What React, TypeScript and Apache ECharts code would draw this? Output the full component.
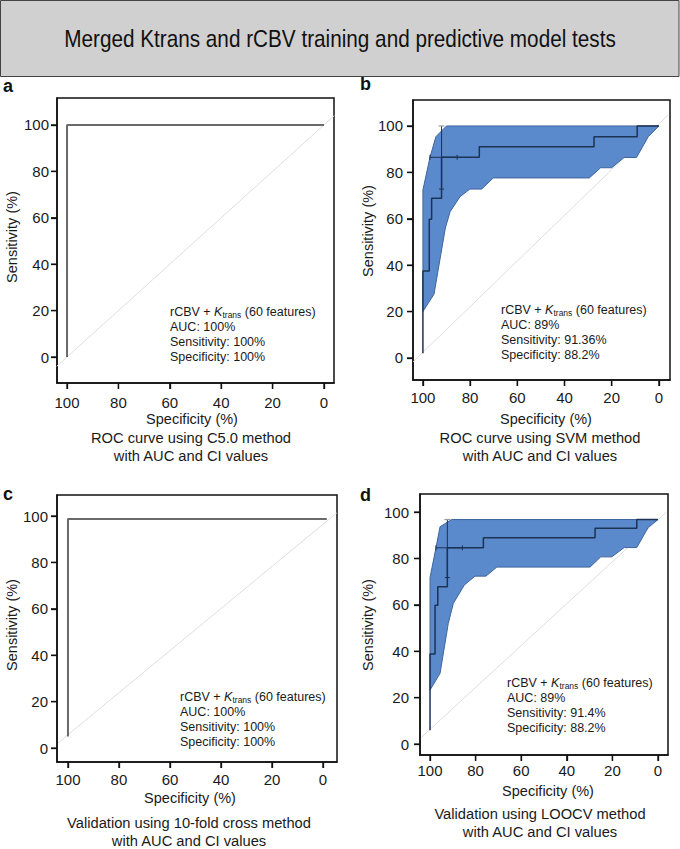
import React, { useEffect, useRef } from "react";
import * as echarts from "echarts";

const FONT = "'Liberation Sans', Arial, Helvetica, sans-serif";
const TICK_VALUES = [0, 20, 40, 60, 80, 100];

const TITLE = "Merged Ktrans and rCBV training and predictive model tests";
const PANEL_LETTERS = ["a", "b", "c", "d"];
const CAPTIONS = [
  "ROC curve using C5.0 method\nwith AUC and CI values",
  "ROC curve using SVM method\nwith AUC and CI values",
  "Validation using 10-fold cross method\nwith AUC and CI values",
  "Validation using LOOCV method\nwith AUC and CI values",
];
const X_NAME = "Specificity (%)";
const Y_NAME = "Sensitivity (%)";
const STATS_A = ["AUC: 100%", "Sensitivity: 100%", "Specificity: 100%"];
const STATS_B = ["AUC: 89%", "Sensitivity: 91.36%", "Specificity: 88.2%"];
const STATS_C = ["AUC: 100%", "Sensitivity: 100%", "Specificity: 100%"];
const STATS_D = ["AUC: 89%", "Sensitivity: 91.4%", "Specificity: 88.2%"];

// Panel a (C5.0)
const ROC_A = [[100, 0], [100, 100], [0, 100]];
const DIAG_A = [[104, -4], [-4, 104]];

// Panel b (SVM)
const ROC_B = [
  [100, 2], [100, 37.5], [97.3, 37.5], [97.3, 59.8], [96.3, 59.8], [96.3, 68.8],
  [92.1, 68.8], [92.1, 86.5], [76.1, 86.5], [76.1, 91.1], [27.5, 91.1], [27.5, 95.4],
  [9.2, 95.4], [9.2, 100], [0, 100],
];
const BAND_UPPER_B = [[100, 20], [100, 72.4], [97, 86.5], [94.5, 95.4], [90, 100], [0, 100]];
const BAND_LOWER_B = [
  [100, 20], [95.3, 27.5], [90.5, 56], [88.5, 63], [84.3, 69.5], [80.1, 72.8], [75.1, 72.8],
  [70.2, 77.6], [29.5, 77.6], [24.7, 82], [20, 82], [14.8, 86.4], [9.5, 86.4], [4.5, 95.4], [0, 100],
];
const CI_SENS_B = [[92.1, 72.8], [92.1, 100]];
const CI_SPEC_B = [[97, 86.5], [85.5, 86.5]];
const DIAG_B = [[104.1, -1.6], [-3.9, 104.7]];

// Panel c (10-fold)
const ROC_C = [[100, 5], [100, 98.7], [-1.5, 98.7]];
const DIAG_C = [[103.9, 2.2], [-5.4, 101.3]];

// Panel d (LOOCV)
const ROC_D = [
  [100, 6], [100, 38.8], [97.8, 38.8], [97.8, 59.9], [96.6, 59.9], [96.6, 67.8],
  [92.4, 67.8], [92.4, 84.6], [76.6, 84.6], [76.6, 88.9], [27.6, 88.9], [27.6, 93],
  [9.3, 93], [9.3, 96.8], [0, 96.8],
];
const BAND_UPPER_D = [[100, 23.3], [100, 71.8], [97.4, 84.6], [95.6, 93.7], [90.5, 96.8], [0, 96.8]];
const BAND_LOWER_D = [
  [100, 23.3], [95.6, 30.5], [92, 52], [89.8, 60.6], [85, 68.5], [80.3, 72.4], [75.5, 72.4],
  [70.7, 76.3], [29.8, 76.3], [25.1, 80.7], [20.3, 80.7], [14.8, 84.7], [9.3, 84.7], [4.3, 93.4], [0, 96.8],
];
const CI_SENS_D = [[92.4, 71.8], [92.4, 96.8]];
const CI_SPEC_D = [[97.4, 84.6], [85.8, 84.6]];
const DIAG_D = [[103.6, 3.1], [-3.8, 100.1]];

// layout
const PANELS = [
  { grid: { left: 57, top: 98, width: 277, height: 285 }, x: [-3.9, 103.9], y: [-11.2, 111.6], yM: 8, xM: 12,
    letter: [3, 86], xName: [192, 419], yName: [12, 237], cap: [191, 447], stats: [170, 304.5] },
  { grid: { left: 413, top: 100, width: 257, height: 280 }, x: [-4.7, 104.2], y: [-9.5, 111.2], yM: 10, xM: 10,
    letter: [360, 84], xName: [546, 419], yName: [368, 231], cap: [540, 447], stats: [501, 302.5] },
  { grid: { left: 57, top: 495, width: 280, height: 267 }, x: [-5.5, 104.3], y: [-6, 109.05], yM: 9, xM: 10,
    letter: [3, 494], xName: [190, 798], yName: [12, 625], cap: [189, 832], stats: [180, 689.5] },
  { grid: { left: 420, top: 494, width: 248, height: 261 }, x: [-4.4, 104.4], y: [-4.7, 107.8], yM: 11, xM: 8,
    letter: [360, 495], xName: [548, 791], yName: [368, 625], cap: [540, 822.5], stats: [507, 675.5] },
];

const CURVE_GRAY = "#6a6a6a";
const CURVE_NAVY = "#1c3354";
const BAND_FILL = "#5a89cc";
const BAND_EDGE = "#3e659e";
const DIAG_COLOR = "#dedede";
const TEXT_COLOR = "#1a1a1a";
const FRAME_COLOR = "#111";
const TICK_LEN = 6;

function lineSeries(i: number, data: number[][], color: string, width: number, z: number) {
  return {
    type: "line",
    xAxisIndex: i,
    yAxisIndex: i,
    data,
    symbol: "none",
    showSymbol: false,
    silent: true,
    clip: true,
    z,
    lineStyle: { color, width },
  };
}

function bandSeries(i: number, upper: number[][], lower: number[][]) {
  const poly = upper.concat(lower.slice().reverse());
  return {
    type: "custom",
    xAxisIndex: i,
    yAxisIndex: i,
    silent: true,
    z: 2,
    data: [[50, 50]],
    renderItem: (_p: any, api: any) => ({
      type: "polygon",
      shape: { points: poly.map((pt) => api.coord(pt)) },
      style: { fill: BAND_FILL, stroke: BAND_EDGE, lineWidth: 1 },
    }),
  };
}

// outward tick marks on the left and bottom edges, placed through the axes' scales
function tickSeries(i: number, xr: number[], yr: number[]) {
  return {
    type: "custom",
    xAxisIndex: i,
    yAxisIndex: i,
    clip: false,
    z: 10,
    data: [[50, 50]],
    renderItem: (_p: any, api: any) => {
      const children: any[] = [];
      TICK_VALUES.forEach((v) => {
        const b = api.coord([v, yr[0]]);
        children.push({ type: "line", shape: { x1: b[0], y1: b[1], x2: b[0], y2: b[1] + TICK_LEN }, style: { stroke: FRAME_COLOR, lineWidth: 1.3 } });
        const l = api.coord([xr[1], v]);
        children.push({ type: "line", shape: { x1: l[0], y1: l[1], x2: l[0] - TICK_LEN, y2: l[1] }, style: { stroke: FRAME_COLOR, lineWidth: 1.3 } });
      });
      return { type: "group", children };
    },
  };
}

function ciSeries(i: number, sens: number[][], spec: number[][]) {
  return {
    type: "custom",
    xAxisIndex: i,
    yAxisIndex: i,
    silent: true,
    z: 4,
    data: [[50, 50]],
    renderItem: (_p: any, api: any) => {
      const s0 = api.coord(sens[0]);
      const s1 = api.coord(sens[1]);
      const p0 = api.coord(spec[0]);
      const p1 = api.coord(spec[1]);
      const navy = { stroke: CURVE_NAVY, lineWidth: 1 };
      return {
        type: "group",
        children: [
          { type: "line", shape: { x1: s0[0], y1: s0[1], x2: s1[0], y2: s1[1] }, style: navy },
          { type: "line", shape: { x1: p0[0], y1: p0[1], x2: p1[0], y2: p1[1] }, style: navy },
          { type: "line", shape: { x1: s0[0] - 2.5, y1: s0[1], x2: s0[0] + 2.5, y2: s0[1] }, style: navy },
          { type: "line", shape: { x1: s1[0] - 3, y1: s1[1], x2: s1[0] + 3, y2: s1[1] }, style: { stroke: "#9a9a9a", lineWidth: 1.2 } },
          { type: "line", shape: { x1: p0[0], y1: p0[1] - 2.5, x2: p0[0], y2: p0[1] + 2.5 }, style: navy },
          { type: "line", shape: { x1: p1[0], y1: p1[1] - 2.5, x2: p1[0], y2: p1[1] + 2.5 }, style: navy },
        ],
      };
    },
  };
}

function statsText(x: number, y: number, lines: string[]) {
  const text = "{n|rCBV + }{k|K}{s|trans}{n| (60 features)}\n" + lines.map((l) => "{n|" + l + "}").join("\n");
  const base = { fontSize: 12.5, lineHeight: 15, fontFamily: FONT, fill: TEXT_COLOR };
  return {
    type: "text",
    x,
    y,
    z: 10,
    style: {
      text,
      align: "left",
      verticalAlign: "top",
      ...base,
      rich: {
        n: { ...base },
        k: { ...base, fontStyle: "italic" },
        s: { fontSize: 8.5, lineHeight: 9, verticalAlign: "bottom", fontFamily: FONT, fill: TEXT_COLOR },
      },
    },
  };
}

export default function App() {
  const ref = useRef<HTMLDivElement>(null);
  useEffect(() => {
    if (!ref.current) return;
    const chart = echarts.init(ref.current, undefined, { renderer: "svg" });

    const grids = PANELS.map((p) => ({
      ...p.grid,
      show: true,
      borderColor: FRAME_COLOR,
      borderWidth: 1.5,
    }));
    const xAxes = PANELS.map((p, i) => ({
      type: "value",
      gridIndex: i,
      inverse: true,
      min: p.x[0],
      max: p.x[1],
      splitLine: { show: false },
      axisLine: { show: true, onZero: false, lineStyle: { color: FRAME_COLOR, width: 1.5 } },
      axisTick: { show: true, length: TICK_LEN, customValues: TICK_VALUES, lineStyle: { color: FRAME_COLOR, width: 1.3 } },
      axisLabel: { customValues: TICK_VALUES, margin: p.xM, fontSize: 15, color: TEXT_COLOR, fontFamily: FONT },
    }));
    const yAxes = PANELS.map((p, i) => ({
      type: "value",
      gridIndex: i,
      min: p.y[0],
      max: p.y[1],
      splitLine: { show: false },
      axisLine: { show: true, onZero: false, lineStyle: { color: FRAME_COLOR, width: 1.5 } },
      axisTick: { show: true, length: TICK_LEN, customValues: TICK_VALUES, lineStyle: { color: FRAME_COLOR, width: 1.3 } },
      axisLabel: { customValues: TICK_VALUES, margin: p.yM, fontSize: 15, color: TEXT_COLOR, fontFamily: FONT },
    }));

    const series: any[] = [
      lineSeries(0, DIAG_A, DIAG_COLOR, 1, 1),
      lineSeries(0, ROC_A, CURVE_GRAY, 2, 3),
      bandSeries(1, BAND_UPPER_B, BAND_LOWER_B),
      lineSeries(1, DIAG_B, DIAG_COLOR, 1, 1),
      lineSeries(1, ROC_B, CURVE_NAVY, 1.5, 3),
      ciSeries(1, CI_SENS_B, CI_SPEC_B),
      lineSeries(2, DIAG_C, DIAG_COLOR, 1, 1),
      lineSeries(2, ROC_C, CURVE_GRAY, 2, 3),
      bandSeries(3, BAND_UPPER_D, BAND_LOWER_D),
      lineSeries(3, DIAG_D, DIAG_COLOR, 1, 1),
      lineSeries(3, ROC_D, CURVE_NAVY, 1.5, 3),
      ciSeries(3, CI_SENS_D, CI_SPEC_D),
      ...PANELS.map((p, i) => tickSeries(i, p.x, p.y)),
    ];

    const stats = [STATS_A, STATS_B, STATS_C, STATS_D];
    const graphic: any[] = [
      {
        type: "rect",
        shape: { x: 0.5, y: 0.5, width: 678.5, height: 76 },
        style: { fill: "#d0d0d0", stroke: "#444", lineWidth: 1 },
        z: 0,
      },
      {
        type: "text",
        x: 340,
        y: 39,
        scaleX: 0.864,
        z: 5,
        style: { text: TITLE, align: "center", verticalAlign: "middle", fontSize: 24, fontFamily: FONT, fill: "#111" },
      },
    ];
    PANELS.forEach((p, i) => {
      graphic.push({
        type: "text",
        x: p.letter[0],
        y: p.letter[1],
        style: { text: PANEL_LETTERS[i], align: "left", verticalAlign: "middle", fontSize: 18, fontWeight: "bold", fontFamily: FONT, fill: "#111" },
      });
      graphic.push({
        type: "text",
        x: p.xName[0],
        y: p.xName[1],
        style: { text: X_NAME, align: "center", verticalAlign: "middle", fontSize: 14.5, fontFamily: FONT, fill: TEXT_COLOR },
      });
      graphic.push({
        type: "text",
        x: p.yName[0],
        y: p.yName[1],
        rotation: Math.PI / 2,
        style: { text: Y_NAME, align: "center", verticalAlign: "middle", fontSize: 14.5, fontFamily: FONT, fill: TEXT_COLOR },
      });
      graphic.push({
        type: "text",
        x: p.cap[0],
        y: p.cap[1],
        style: { text: CAPTIONS[i], align: "center", verticalAlign: "middle", lineHeight: 18, fontSize: 14.7, fontFamily: FONT, fill: TEXT_COLOR },
      });
      graphic.push(statsText(p.stats[0], p.stats[1], stats[i]));
    });

    chart.setOption({
      animation: false,
      textStyle: { fontFamily: FONT },
      grid: grids,
      xAxis: xAxes,
      yAxis: yAxes,
      series,
      graphic,
    });
    return () => chart.dispose();
  }, []);

  return (
    <div
      ref={ref}
      style={{ position: "absolute", left: 0, top: 0, width: 680, height: 849 }}
    />
  );
}
